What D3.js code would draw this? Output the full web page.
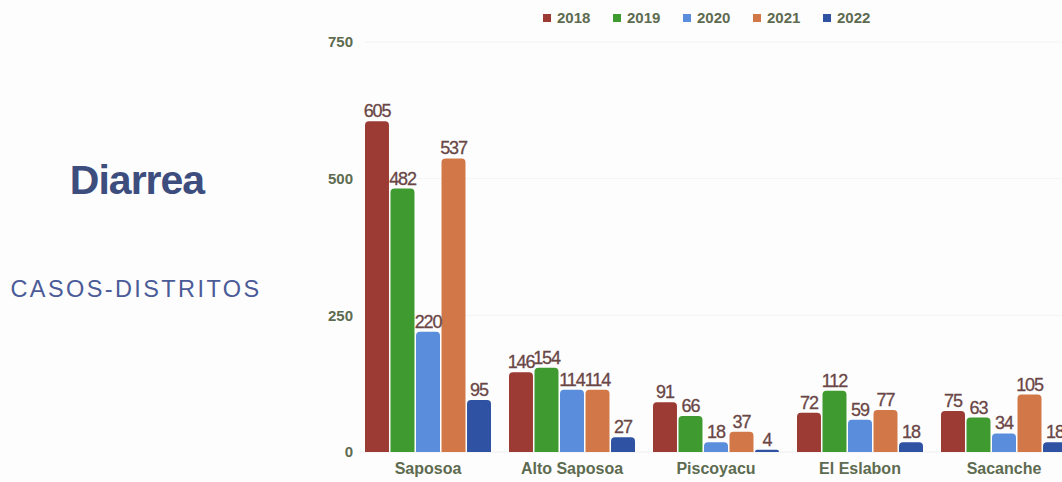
<!DOCTYPE html>
<html>
<head>
<meta charset="utf-8">
<script src="https://cdn.jsdelivr.net/npm/d3@7"></script>
<style>
  html, body { margin: 0; padding: 0; background: #fdfdfd; }
  svg { display: block; }
</style>
</head>
<body>
<svg id="chart" width="1062" height="482"></svg>
<script>
const categories = ["Saposoa", "Alto Saposoa", "Piscoyacu", "El Eslabon", "Sacanche"];
const years = ["2018", "2019", "2020", "2021", "2022"];
const v2018 = [605, 146, 91, 72, 75];
const v2019 = [482, 154, 66, 112, 63];
const v2020 = [220, 114, 18, 59, 34];
const v2021 = [537, 114, 37, 77, 105];
const v2022 = [95, 27, 4, 18, 18];
const yTicks = [0, 250, 500, 750];
const colors = ["#9c3b33", "#3f9a2f", "#5a8ddc", "#d27848", "#2f52a2"];

const seriesValues = [v2018, v2019, v2020, v2021, v2022];
const data = categories.map((c, i) => ({
  cat: c,
  vals: years.map((y, j) => ({ year: y, value: seriesValues[j][i], color: colors[j] }))
}));

const svg = d3.select("#chart");

const x0 = d3.scaleBand().domain(categories).range([347, 1085]).paddingInner(0.125).paddingOuter(0.125);
const x1 = d3.scaleBand().domain(years).range([0, x0.bandwidth()]).paddingInner(0.06);
const y = d3.scaleLinear().domain([0, 750]).range([452, 42]);

// Title texts
svg.append("text").attr("x", 137).attr("y", 194).attr("text-anchor", "middle")
  .attr("font-family", "Liberation Sans, Arial, sans-serif").attr("font-weight", "bold")
  .attr("font-size", 41).attr("letter-spacing", -1).attr("fill", "#3d4d7e").text("Diarrea");
svg.append("text").attr("x", 136).attr("y", 297).attr("text-anchor", "middle")
  .attr("font-family", "Liberation Sans, Arial, sans-serif")
  .attr("font-size", 23.5).attr("letter-spacing", 2.4).attr("fill", "#4b5b98").text("CASOS-DISTRITOS");

// faint gridlines
svg.append("g").selectAll("line").data(yTicks.slice(1)).join("line")
  .attr("x1", 365).attr("x2", 1062).attr("y1", d => y(d)).attr("y2", d => y(d))
  .attr("stroke", "#f4f4f4").attr("stroke-width", 1);

// Y axis
const yAxis = d3.axisLeft(y).tickValues(yTicks).tickSize(0).tickPadding(0);
const gy = svg.append("g").attr("transform", "translate(353,0)").call(yAxis);
gy.select(".domain").remove();
gy.selectAll("text").attr("font-family", "Liberation Sans, Arial, sans-serif")
  .attr("font-weight", "bold").attr("font-size", 15).attr("fill", "#5d6b50");

// baseline
svg.append("line").attr("x1", 360).attr("x2", 1062).attr("y1", y(0)).attr("y2", y(0))
  .attr("stroke", "#eeeeee");

// X axis
const xAxis = d3.axisBottom(x0).tickSize(0).tickPadding(11);
const gx = svg.append("g").attr("transform", `translate(0,${y(0)})`).call(xAxis);
gx.select(".domain").remove();
gx.selectAll("text").attr("font-family", "Liberation Sans, Arial, sans-serif")
  .attr("font-weight", "bold").attr("font-size", 16).attr("fill", "#5d6b50");

// Bars with rounded tops
function topRounded(x, yTop, w, h, r) {
  r = Math.min(r, h, w / 2);
  return `M${x},${yTop + h}V${yTop + r}Q${x},${yTop} ${x + r},${yTop}H${x + w - r}Q${x + w},${yTop} ${x + w},${yTop + r}V${yTop + h}Z`;
}

const groups = svg.append("g").selectAll("g").data(data).join("g")
  .attr("transform", d => `translate(${x0(d.cat)},0)`);

groups.selectAll("path").data(d => d.vals).join("path")
  .attr("d", d => topRounded(x1(d.year), y(d.value), x1.bandwidth(), y(0) - y(d.value), 4))
  .attr("fill", d => d.color);

groups.selectAll("text.val").data(d => d.vals).join("text").attr("class", "val")
  .attr("x", d => x1(d.year) + x1.bandwidth() / 2)
  .attr("y", d => y(d.value) - 4)
  .attr("text-anchor", "middle")
  .attr("font-family", "Liberation Sans, Arial, sans-serif")
  .attr("font-size", 18).attr("letter-spacing", -1.1)
  .attr("stroke", "#6a4646").attr("stroke-width", 0.3)
  .attr("fill", "#6a4646")
  .text(d => d.value);

// Legend
const legend = svg.append("g").selectAll("g").data(years).join("g")
  .attr("transform", (d, i) => `translate(${543 + i * 70},18)`);
legend.append("rect").attr("x", 0).attr("y", -4).attr("width", 8).attr("height", 8)
  .attr("fill", (d, i) => colors[i]);
legend.append("text").attr("x", 14).attr("y", 5)
  .attr("font-family", "Liberation Sans, Arial, sans-serif")
  .attr("font-weight", "bold").attr("font-size", 15).attr("fill", "#5d6b50")
  .text(d => d);
</script>
</body>
</html>
